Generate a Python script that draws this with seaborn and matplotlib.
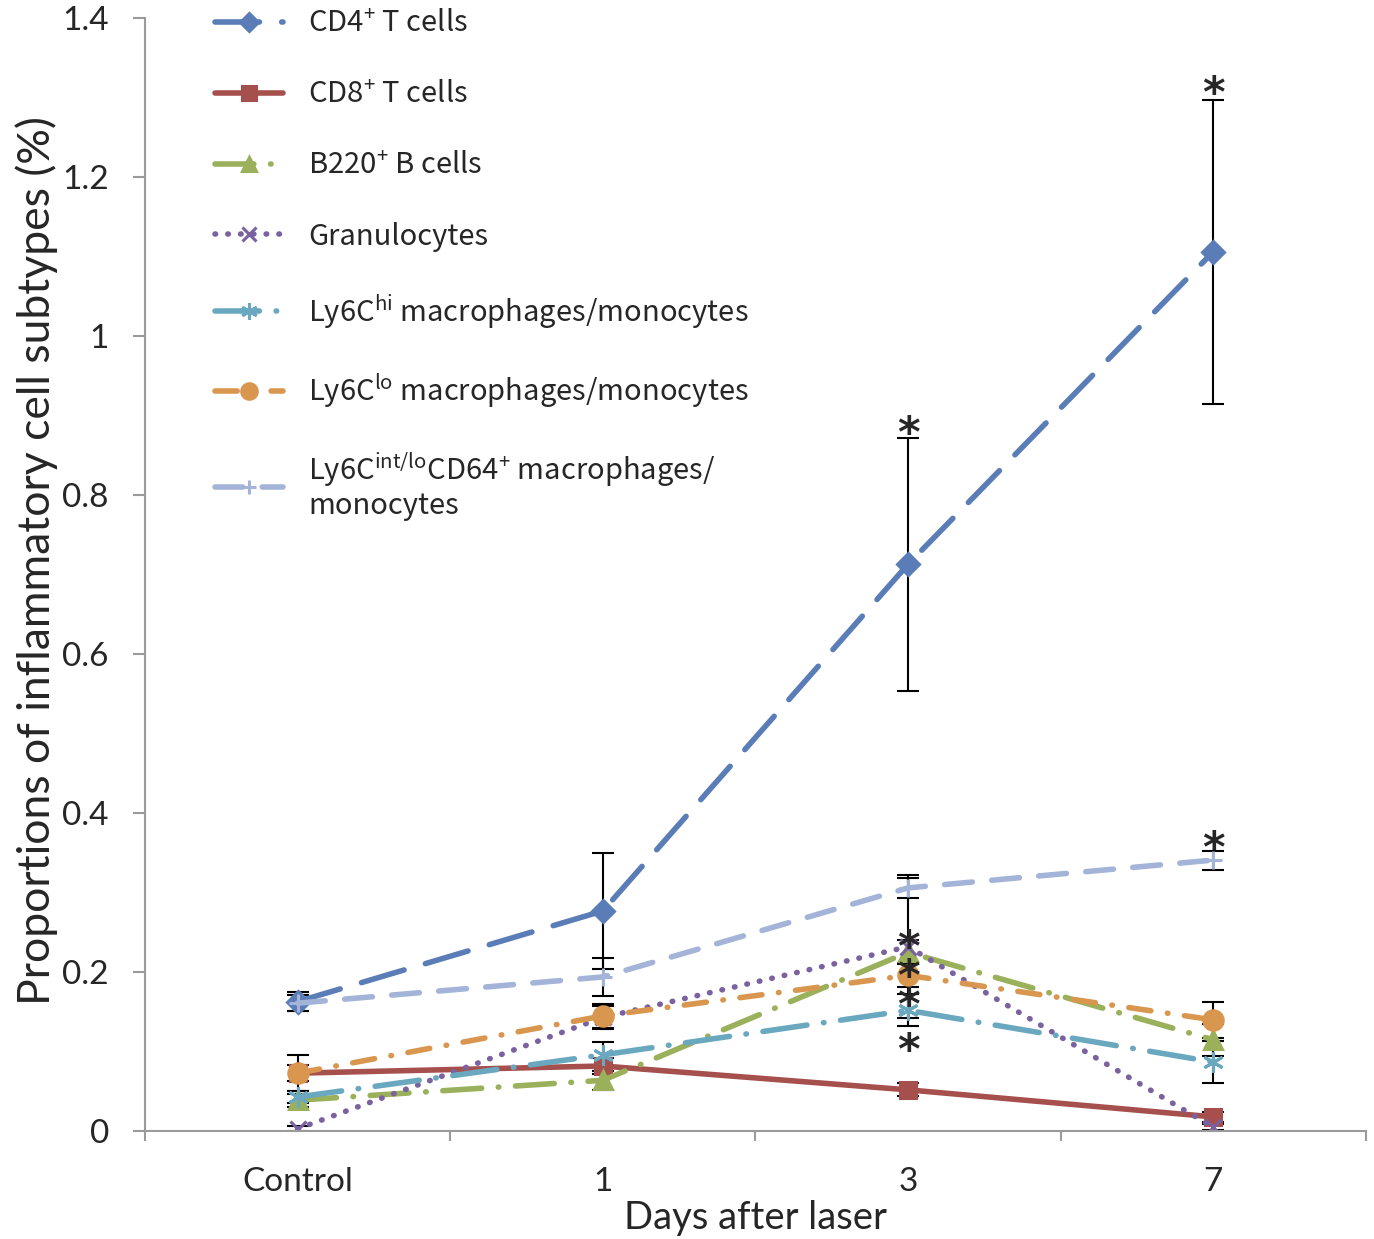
import matplotlib
matplotlib.use("Agg")
import matplotlib.pyplot as plt
from matplotlib.ticker import FixedLocator, FuncFormatter
import seaborn as sns

# x categories
days = ["Control", "1", "3", "7"]
xpos = [0, 1, 2, 3]

# mean proportions (%)
cd4 = [0.163, 0.277, 0.713, 1.106]
cd8 = [0.073, 0.082, 0.052, 0.018]
b220 = [0.039, 0.064, 0.225, 0.115]
gran = [0.003, 0.143, 0.232, 0.005]
ly6c_hi = [0.043, 0.096, 0.152, 0.087]
ly6c_lo = [0.073, 0.145, 0.196, 0.140]
ly6c_int = [0.161, 0.194, 0.306, 0.341]

# error bars (SE)
cd4_err = [0.012, 0.073, 0.159, 0.191]
cd8_err = [0.023, 0.010, 0.008, 0.006]
b220_err = [0.008, 0.012, 0.015, 0.020]
gran_err = [0.003, 0.015, 0.090, 0.004]
ly6c_hi_err = [0.008, 0.016, 0.020, 0.027]
ly6c_lo_err = [0.010, 0.015, 0.015, 0.023]
ly6c_int_err = [0.010, 0.024, 0.013, 0.012]

# significance stars (x index, y value of star centre)
star_x = [2, 3, 3, 2, 2, 2, 2]
star_y = [0.894, 1.322, 0.372, 0.247, 0.211, 0.175, 0.118]

labels = [
    "CD4$^{+}$ T cells",
    "CD8$^{+}$ T cells",
    "B220$^{+}$ B cells",
    "Granulocytes",
    "Ly6C$^{hi}$ macrophages/monocytes",
    "Ly6C$^{lo}$ macrophages/monocytes",
    "Ly6C$^{int/lo}$CD64$^{+}$ macrophages/\nmonocytes",
]
values = [cd4, cd8, b220, gran, ly6c_hi, ly6c_lo, ly6c_int]
errors = [cd4_err, cd8_err, b220_err, gran_err, ly6c_hi_err, ly6c_lo_err, ly6c_int_err]
colors = ["#5A7DB8", "#A6504D", "#9AB05A", "#7A62A0", "#6AA8C0", "#D9964E", "#A3B4D8"]
markers = ["D", "s", "^", "x", (6, 2, 0), "o", "+"]
msizes = [11, 12, 13, 12, 15, 14, 13]
styles = [
    (0, (8, 4)),
    "-",
    (0, (7, 3, 0.1, 3)),
    (0, (0.1, 2.2)),
    (0, (8, 3, 0.1, 3)),
    (0, (4, 3, 0.1, 3)),
    (0, (5, 3.5)),
]

sns.set_style("ticks")
plt.rcParams["font.family"] = ["Lato", "DejaVu Sans"]
plt.rcParams["mathtext.default"] = "regular"

fig = plt.figure(figsize=(13.74, 12.39), dpi=100)
ax = fig.add_axes([0.1055, 0.087, 0.8886, 0.8985])

for vals, err, c, m, ms, ls, lab in zip(values, errors, colors, markers, msizes, styles, labels):
    ax.errorbar(xpos, vals, yerr=err, fmt="none", ecolor="black",
                elinewidth=1.5, capsize=8, capthick=1.5, zorder=1)
    sns.lineplot(x=xpos, y=vals, ax=ax, color=c, marker=m, markersize=ms,
                 markeredgecolor=c, markeredgewidth=2.2, linewidth=4,
                 linestyle=ls, dash_capstyle="round", solid_capstyle="round",
                 label=lab, zorder=2)

fs_star = 31
for sx, sy in zip(star_x, star_y):
    ax.annotate("*", xy=(sx, sy), xytext=(0, -0.62 * fs_star), textcoords="offset points",
                ha="center", va="baseline", fontsize=fs_star, fontweight="bold",
                family="DejaVu Sans", zorder=5)

ax.set_xlim(-0.5, 3.5)
ax.set_ylim(0, 1.4)
ax.set_xticks(xpos)
ax.set_xticklabels(days)
ax.xaxis.set_minor_locator(FixedLocator([-0.5, 0.5, 1.5, 2.5, 3.5]))
ax.set_yticks([0, 0.2, 0.4, 0.6, 0.8, 1.0, 1.2, 1.4])
ax.yaxis.set_major_formatter(FuncFormatter(lambda v, p: f"{v:g}"))
ax.tick_params(axis="x", which="major", length=0, labelsize=24, pad=26)
ax.tick_params(axis="x", which="minor", length=7, width=1.5, color="#9a9a9a")
ax.tick_params(axis="y", length=9, width=1.5, color="#9a9a9a", labelsize=24, pad=17)

sns.despine(ax=ax)
for side in ["left", "bottom"]:
    ax.spines[side].set_color("#9a9a9a")
    ax.spines[side].set_linewidth(1.5)

ax.set_xlabel("Days after laser", fontsize=27.5, labelpad=2)
ax.set_ylabel("Proportions of inflammatory cell subtypes (%)", fontsize=32)
ax.yaxis.set_label_coords(-0.071, 0.513)

handles, labs = ax.get_legend_handles_labels()
leg = ax.legend(handles, labs, loc="upper left", bbox_to_anchor=(0.057, 1.008),
                frameon=False, prop={"family": "Noto Sans CJK JP", "size": 21},
                handlelength=2.35, labelspacing=1.4, borderpad=0, borderaxespad=0,
                handletextpad=0.85, numpoints=1, markerscale=0.8)
leg.get_texts()[-1].set_linespacing(1.1)

fig.savefig("out.png", dpi=100)
